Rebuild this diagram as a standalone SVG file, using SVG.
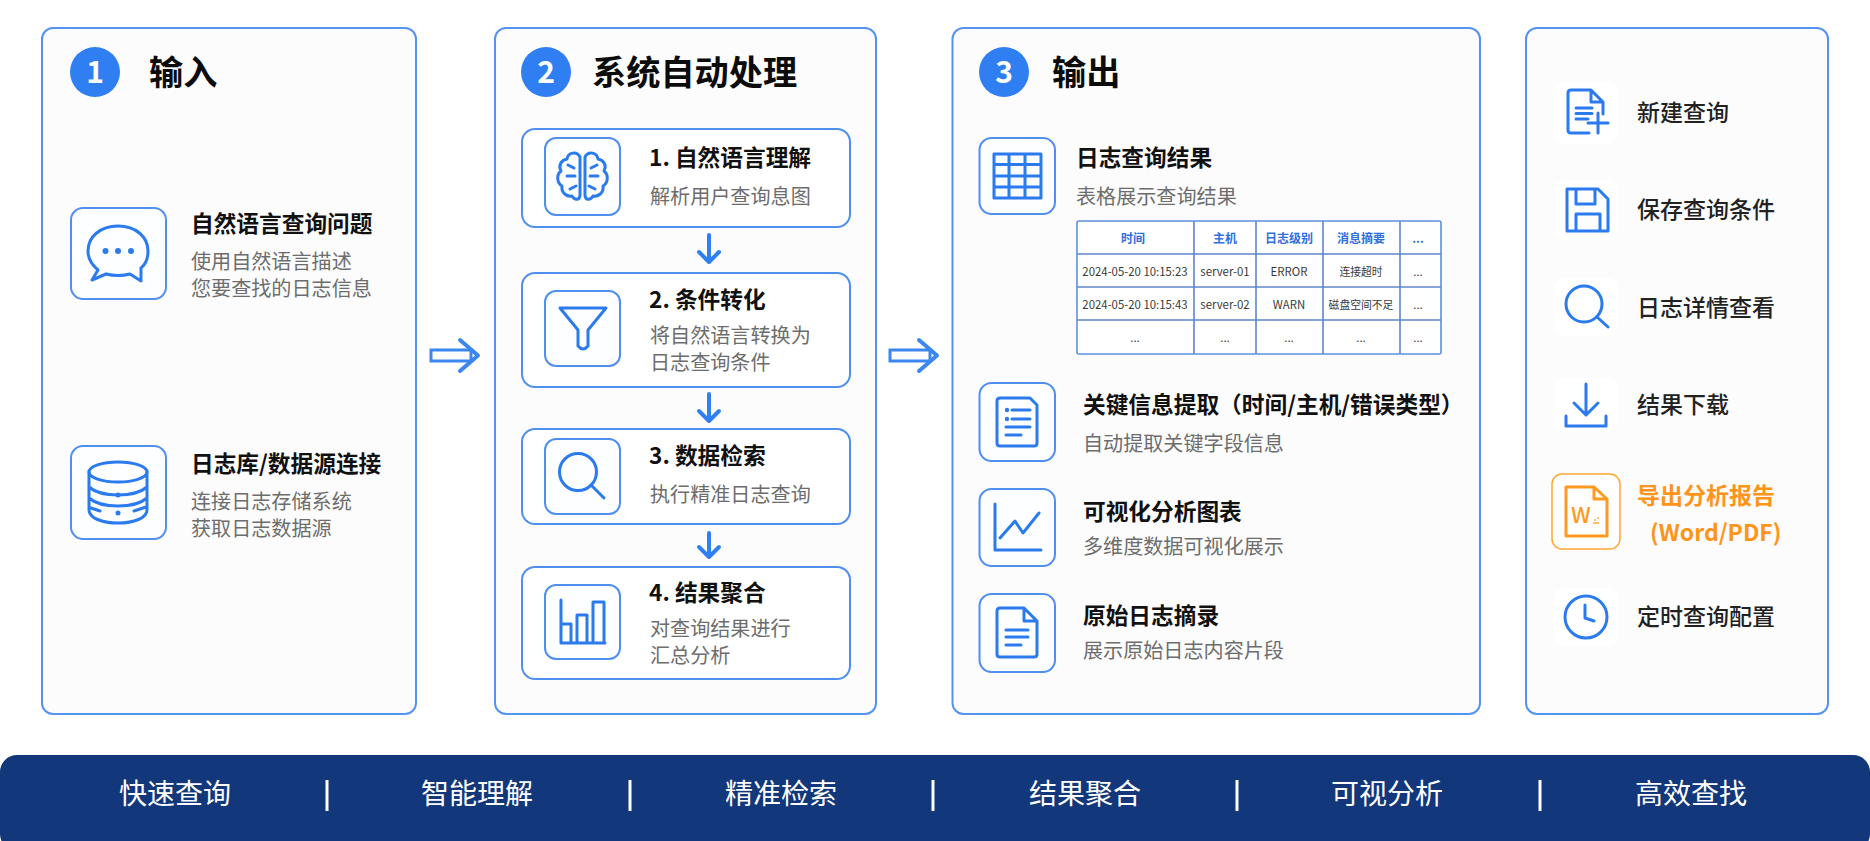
<svg xmlns="http://www.w3.org/2000/svg" width="1870" height="841" viewBox="0 0 1870 841">
<style>
text{font-family:"Noto Sans CJK SC","Noto Sans",sans-serif}
.panel{fill:#fcfcfd;stroke:#5593f0;stroke-width:2}
.box{fill:#fff;stroke:#4f8ff0;stroke-width:2}
.ib{fill:#fdfeff;stroke:#4f8ff0;stroke-width:2}
.ic{fill:none;stroke:#2b7aee;stroke-width:3;stroke-linecap:round;stroke-linejoin:round}
.dot{fill:#2b7aee}
.num{font-size:30px;font-weight:700;fill:#fff;text-anchor:middle}
.hd{font-size:34.2px;font-weight:700;fill:#0c0c0c}
.t{font-size:22.7px;font-weight:700;fill:#111}
.s{font-size:20.1px;fill:#6d6d6d}
.m{font-size:23px;font-weight:500;fill:#222}
.o{font-size:23px;font-weight:700;fill:#ff9419}
.b{font-size:28px;fill:#fff;text-anchor:middle}
.th{font-size:12px;font-weight:700;fill:#2f6fdc;text-anchor:middle}
.td{font-size:11.4px;fill:#3a3a3a;text-anchor:middle}
.tc{font-size:10.8px;fill:#3a3a3a;text-anchor:middle}
.tl{fill:none;stroke:#5f86c8;stroke-width:1.6}
.ar{fill:none;stroke:#2f80f5;stroke-width:4;stroke-linecap:round;stroke-linejoin:round}
.ha{fill:#fff;stroke:#3b86ef;stroke-width:3}
.sep{stroke:#fff;stroke-width:3}
.oi{fill:none;stroke:#ff9a1f;stroke-width:3;stroke-linejoin:round}
.soft{fill:#fff}
</style>
<rect width="1870" height="841" fill="#fff"/>

<g id="panel-input">
<rect class="panel" x="42" y="28" width="374" height="686" rx="11"/>
<circle cx="95" cy="72" r="25" fill="#2f7ff2"/><text class="num" x="95" y="83">1</text>
<text class="hd" x="149" y="85">输入</text>
</g>
<g id="node-question">
<rect class="ib" x="71" y="208" width="95" height="91" rx="12"/>
<path class="ic" d="M118 226C100 226 88 237 88 251C88 259 92 265 98 270L92 280L106 274C114 276 122 276 130 274L141 281L141 268C146 264 148 258 148 251C148 237 136 226 118 226Z"/>
<circle class="dot" cx="105.500" cy="251" r="3"/><circle class="dot" cx="118" cy="251" r="3"/><circle class="dot" cx="131" cy="251" r="3"/>
<text class="t" x="191" y="232">自然语言查询问题</text>
<text class="s" x="191" y="269">使用自然语言描述</text>
<text class="s" x="191" y="296">您要查找的日志信息</text>
</g>
<g id="node-datasource">
<rect class="ib" x="71" y="446" width="95" height="93" rx="12"/>
<ellipse class="ic" cx="118" cy="472" rx="29" ry="10"/>
<path class="ic" d="M89 472V510C89 518 102 523 118 523C134 523 147 518 147 510V472M89 487C96 493 106 495 118 495C130 495 140 493 147 487M89 498C96 504 106 506 118 506C130 506 140 504 147 498M91 508L100 511M134 511L146 507"/>
<circle class="dot" cx="118" cy="495" r="2.500"/><circle class="dot" cx="118" cy="513" r="2.500"/>
<text class="t" x="191" y="472">日志库/数据源连接</text>
<text class="s" x="191" y="509">连接日志存储系统</text>
<text class="s" x="191" y="536">获取日志数据源</text>
</g>

<g id="panel-process">
<rect class="panel" x="495" y="28" width="381" height="686" rx="11"/>
<circle cx="546" cy="72" r="25" fill="#2f7ff2"/><text class="num" x="546" y="83">2</text>
<text class="hd" x="592" y="85">系统自动处理</text>
</g>
<g id="step-1">
<rect class="box" x="522" y="129" width="328" height="98" rx="13"/>
<rect class="ib" x="545" y="138" width="75" height="77" rx="11"/>
<path class="ic" d="M580 157C577 151 568 152 567 159C561 160 558 166 561 171C556 175 557 183 562 186C561 193 567 197 572 196C575 201 580 200 580 195ZM585 157C588 151 597 152 598 159C604 160 607 166 604 171C609 175 608 183 603 186C604 193 598 197 593 196C590 201 585 200 585 195ZM568 165L574 168M567 176H575M570 189L576 186M597 165L591 168M598 176H590M595 189L589 186"/>
<text class="t" x="649" y="166">1. 自然语言理解</text>
<text class="s" x="650" y="204">解析用户查询息图</text>
</g>
<g id="step-2">
<rect class="box" x="522" y="273" width="328" height="114" rx="13"/>
<rect class="ib" x="545" y="291" width="75" height="75" rx="11"/>
<path class="ic" d="M560 308H606L588 330V346Q583 352 578 346V330Z"/>
<text class="t" x="649" y="308">2. 条件转化</text>
<text class="s" x="650" y="343">将自然语言转换为</text>
<text class="s" x="650" y="370">日志查询条件</text>
</g>
<g id="step-3">
<rect class="box" x="522" y="429" width="328" height="95" rx="13"/>
<rect class="ib" x="545" y="439" width="75" height="75" rx="11"/>
<circle class="ic" cx="578" cy="472" r="18.500"/><path class="ic" d="M591 485L604 498"/>
<text class="t" x="649" y="464">3. 数据检索</text>
<text class="s" x="650" y="502">执行精准日志查询</text>
</g>
<g id="step-4">
<rect class="box" x="522" y="567" width="328" height="112" rx="13"/>
<rect class="ib" x="545" y="585" width="75" height="74" rx="11"/>
<path class="ic" d="M561 600V643H605M561 624H571V643M577 643V615H587V643M593 643V602H604V643"/>
<text class="t" x="649" y="601">4. 结果聚合</text>
<text class="s" x="650" y="636">对查询结果进行</text>
<text class="s" x="650" y="663">汇总分析</text>
</g>

<g id="panel-output">
<rect class="panel" x="952.500" y="28" width="527.500" height="686" rx="11"/>
<circle cx="1004" cy="72" r="25" fill="#2f7ff2"/><text class="num" x="1004" y="83">3</text>
<text class="hd" x="1052" y="85">输出</text>
</g>
<g id="out-table">
<rect class="ib" x="979.500" y="138" width="75.500" height="76" rx="12"/>
<path class="ic" d="M994 154H1041V198H994ZM1009 154V198M1025 154V198M994 164.500H1041M994 176H1041M994 187H1041"/>
<text class="t" x="1076" y="166">日志查询结果</text>
<text class="s" x="1076" y="204">表格展示查询结果</text>
<rect x="1077" y="221" width="364" height="133" rx="2" fill="#fff"/>
<path class="tl" d="M1194 221V354M1256 221V354M1323 221V354M1400 221V354M1077 254H1441M1077 287H1441M1077 320H1441"/>
<rect x="1077" y="221" width="364" height="133" rx="2" fill="none" stroke="#5c8fe0" stroke-width="1.600"/>
<text class="th" x="1133" y="243">时间</text><text class="th" x="1225" y="243">主机</text><text class="th" x="1289" y="243">日志级别</text><text class="th" x="1361" y="243">消息摘要</text><text class="th" x="1418" y="243">...</text>
<text class="td" x="1135" y="276">2024-05-20 10:15:23</text><text class="td" x="1225" y="276">server-01</text><text class="td" x="1289" y="276">ERROR</text><text class="tc" x="1361" y="276">连接超时</text><text class="td" x="1418" y="276">...</text>
<text class="td" x="1135" y="309">2024-05-20 10:15:43</text><text class="td" x="1225" y="309">server-02</text><text class="td" x="1289" y="309">WARN</text><text class="tc" x="1361" y="309">磁盘空间不足</text><text class="td" x="1418" y="309">...</text>
<text class="td" x="1135" y="342">...</text><text class="td" x="1225" y="342">...</text><text class="td" x="1289" y="342">...</text><text class="td" x="1361" y="342">...</text><text class="td" x="1418" y="342">...</text>
</g>
<g id="out-keys">
<rect class="ib" x="979.500" y="383" width="75.500" height="78" rx="12"/>
<path class="ic" d="M1000 398H1030L1037 405V443Q1037 446 1034 446H1000Q997 446 997 443V401Q997 398 1000 398ZM1012 410H1030M1012 419H1030M1006 427H1030M1006 435H1021"/>
<circle class="dot" cx="1007" cy="410" r="2.200"/><circle class="dot" cx="1007" cy="419" r="2.200"/>
<text class="t" x="1083" y="413">关键信息提取（时间/主机/错误类型）</text>
<text class="s" x="1083" y="451">自动提取关键字段信息</text>
</g>
<g id="out-chart">
<rect class="ib" x="979.500" y="489" width="75.500" height="77" rx="12"/>
<path class="ic" d="M995 504V550H1041M1000 538L1015 521L1023 533L1039 513"/>
<text class="t" x="1083" y="520">可视化分析图表</text>
<text class="s" x="1083" y="554">多维度数据可视化展示</text>
</g>
<g id="out-raw">
<rect class="ib" x="979.500" y="594" width="75.500" height="78" rx="12"/>
<path class="ic" d="M1000 608H1024L1037 621V654Q1037 657 1034 657H1000Q997 657 997 654V611Q997 608 1000 608ZM1024 608V621H1037M1006 630H1028M1006 637H1028M1006 645H1021"/>
<text class="t" x="1083" y="624">原始日志摘录</text>
<text class="s" x="1083" y="658">展示原始日志内容片段</text>
</g>

<g id="panel-actions"><rect class="panel" x="1526" y="28" width="302" height="686" rx="11"/></g>
<g id="act-new">
<rect class="soft" x="1554" y="82" width="64" height="62" rx="10"/>
<path class="ic" d="M1589 133H1571Q1568 133 1568 130V93Q1568 90 1571 90H1591L1603 102V114M1591 90V102H1603M1576 108H1592M1576 113.500H1592M1576 119H1588M1598 113V133M1588 123H1608"/>
<text class="m" x="1637" y="121">新建查询</text>
</g>
<g id="act-save">
<rect class="soft" x="1554" y="180" width="64" height="60" rx="10"/>
<path class="ic" d="M1567 189H1598L1608 199V231H1567ZM1576 189V204H1595V189M1576 231V214H1600V231"/>
<text class="m" x="1637" y="218">保存查询条件</text>
</g>
<g id="act-detail">
<rect class="soft" x="1554" y="278" width="64" height="58" rx="10"/>
<circle class="ic" cx="1584" cy="304" r="18"/><path class="ic" d="M1597 317L1608 327"/>
<text class="m" x="1637" y="316">日志详情查看</text>
</g>
<g id="act-download">
<rect class="soft" x="1554" y="378" width="64" height="54" rx="10"/>
<path class="ic" d="M1586 384V415M1574 403L1586 415L1598 403M1566 416V426H1606V416"/>
<text class="m" x="1637" y="413">结果下载</text>
</g>
<g id="act-export">
<rect x="1552" y="474" width="68" height="75" rx="10" fill="#fff" stroke="#ffa733" stroke-width="1.500"/>
<path class="oi" d="M1566 487H1594L1607 499V536H1566ZM1594 487V499H1607"/>
<text x="1571" y="523" font-size="22" font-weight="500" fill="#ff9a1f">W</text>
<path d="M1594 519h2v2h-2ZM1597 517h2v2h-2ZM1593 522h6v2h-6Z" fill="#ffc061"/>
<text class="o" x="1637" y="504">导出分析报告</text>
<text class="o" x="1650" y="541">(Word/PDF)</text>
</g>
<g id="act-schedule">
<rect class="soft" x="1554" y="588" width="64" height="58" rx="10"/>
<circle class="ic" cx="1586" cy="617" r="21"/><path class="ic" d="M1585 605V618L1594 621"/>
<text class="m" x="1637" y="625">定时查询配置</text>
</g>

<g id="connectors">
<path class="ha" d="M431 350H471V361H431Z"/>
<path class="ar" style="stroke:#3b86ef" d="M460 340L478 355.500L460 371"/>
<path class="ha" d="M890 350H930V361H890Z"/>
<path class="ar" style="stroke:#3b86ef" d="M919 340L937 355.500L919 371"/>
<path class="ar" d="M709 235V262M699 252L709 262L719 252"/>
<path class="ar" d="M709 394V421M699 411L709 421L719 411"/>
<path class="ar" d="M709 533V557M699 547L709 557L719 547"/>
</g>

<g id="footer">
<rect x="0" y="755" width="1870" height="96" rx="17" fill="#12377a"/>
<text class="b" x="175" y="804">快速查询</text><text class="b" x="477" y="804">智能理解</text><text class="b" x="781" y="804">精准检索</text><text class="b" x="1085" y="804">结果聚合</text><text class="b" x="1387" y="804">可视分析</text><text class="b" x="1691" y="804">高效查找</text>
<path class="sep" d="M327 780V811M630 780V811M933 780V811M1237 780V811M1540 780V811"/>
</g>
</svg>
